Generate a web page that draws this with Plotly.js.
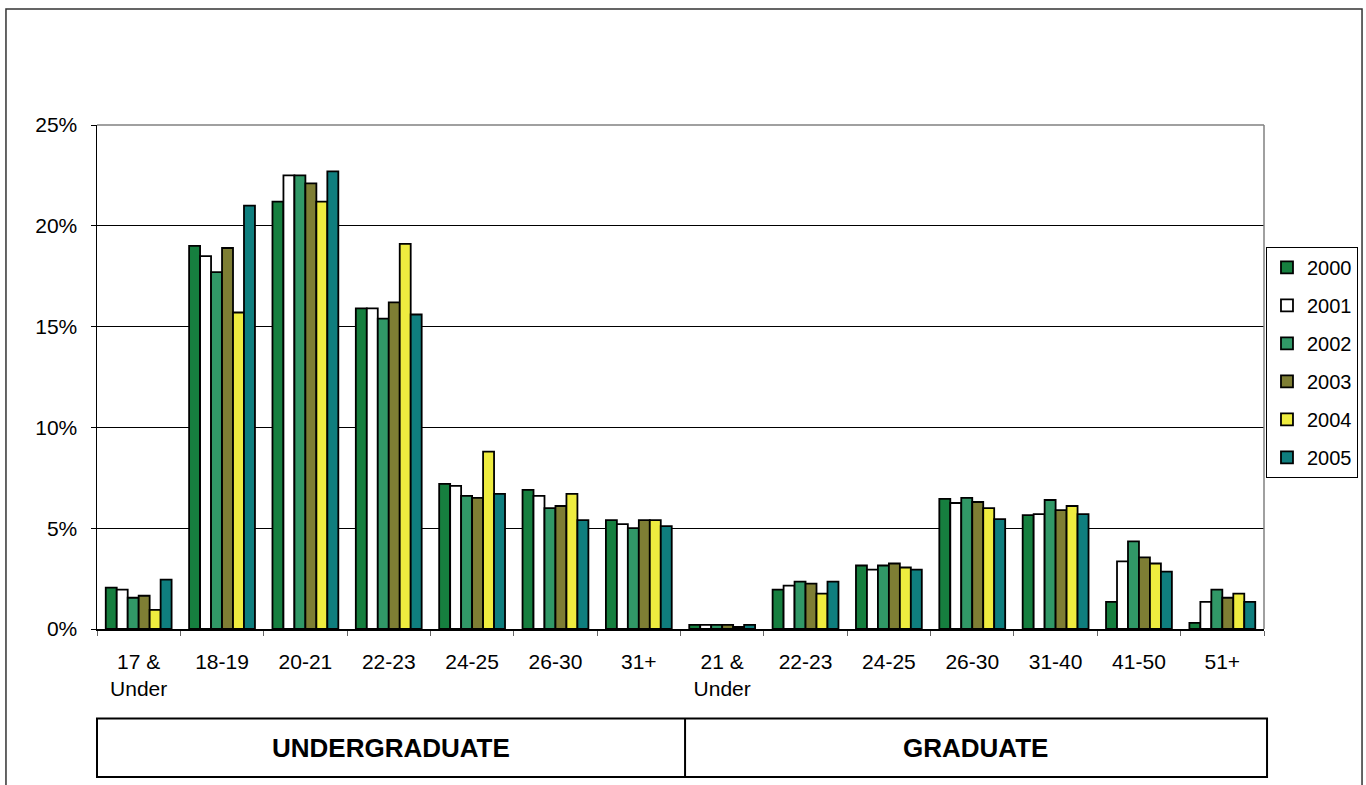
<!DOCTYPE html>
<html>
<head>
<meta charset="utf-8">
<script src="https://cdn.plot.ly/plotly-3.0.1.min.js"></script>
<style>html,body{margin:0;padding:0;background:#fff;}#chart{width:1366px;height:785px;}</style>
</head>
<body>
<div id="chart"></div>
<script>
// ---- data ----
const levels = ["UG","UG","UG","UG","UG","UG","UG","GR","GR","GR","GR","GR","GR","GR"];
const ageBands = ["17 &<br>Under","18-19","20-21","22-23","24-25","26-30","31+",
                  "21 &<br>Under","22-23","24-25","26-30","31-40","41-50","51+"];
const years = ["2000","2001","2002","2003","2004","2005"];
const y2000 = [2.05, 19.0, 21.2, 15.9, 7.2, 6.9, 5.4, 0.2, 1.95, 3.15, 6.45, 5.65, 1.35, 0.3];
const y2001 = [1.95, 18.5, 22.5, 15.9, 7.1, 6.6, 5.2, 0.2, 2.15, 2.95, 6.25, 5.7, 3.35, 1.35];
const y2002 = [1.55, 17.7, 22.5, 15.4, 6.6, 6.0, 5.0, 0.2, 2.35, 3.15, 6.5, 6.4, 4.35, 1.95];
const y2003 = [1.65, 18.9, 22.1, 16.2, 6.5, 6.1, 5.4, 0.2, 2.25, 3.25, 6.3, 5.9, 3.55, 1.55];
const y2004 = [0.95, 15.7, 21.2, 19.1, 8.8, 6.7, 5.4, 0.1, 1.75, 3.05, 6.0, 6.1, 3.25, 1.75];
const y2005 = [2.45, 21.0, 22.7, 15.6, 6.7, 5.4, 5.1, 0.2, 2.35, 2.95, 5.45, 5.7, 2.85, 1.35];
const groupLabels = ["UNDERGRADUATE", "GRADUATE"];

// ---- styles ----
const colors = ["#167F3F", "#FFFFFF", "#319867", "#7E7E34", "#EEEC3F", "#0F7E7E"];
const FONT = "Liberation Sans, Arial, sans-serif";

const xIds = ageBands.map((a, i) => levels[i] + " " + a);
const series = [y2000, y2001, y2002, y2003, y2004, y2005];

const traces = series.map((vals, k) => ({
  type: "bar",
  name: years[k],
  legendgroup: "g" + years[k],
  x: xIds,
  y: vals,
  marker: {color: colors[k], line: {color: "#000", width: 1.8}},
  hoverinfo: "name+y"
}));

const shapes = [
  {type:"line", xref:"paper", yref:"paper", x0:0, x1:1, y0:1, y1:1, line:{color:"#808080", width:1.5}},
  {type:"line", xref:"paper", yref:"paper", x0:1, x1:1, y0:0, y1:1, line:{color:"#808080", width:1.5}},
  {type:"rect", xref:"paper", yref:"paper", x0:-0.0780, x1:1.0840, y0:-0.40, y1:1.2302, line:{color:"#333", width:1.5}, layer:"below"},
  {type:"rect", xref:"paper", yref:"paper", x0:0, x1:1.0026, y0:-0.2937, y1:-0.1776, line:{color:"#000", width:2}},
  {type:"line", xref:"paper", yref:"paper", x0:0.5039, x1:0.5039, y0:-0.2937, y1:-0.1776, line:{color:"#000", width:2}}
];

const annotations = [
  {xref:"paper", yref:"paper", x:0.252, y:-0.2356, text:groupLabels[0], showarrow:false,
   font:{family:FONT, size:26, color:"#000", weight:"bold"}, xanchor:"center", yanchor:"middle"},
  {xref:"paper", yref:"paper", x:0.7532, y:-0.2356, text:groupLabels[1], showarrow:false,
   font:{family:FONT, size:26, color:"#000", weight:"bold"}, xanchor:"center", yanchor:"middle"}
];

const layout = {
  width: 1366, height: 785,
  margin: {l:97, r:102, t:125, b:156, autoexpand:false},
  paper_bgcolor: "#fff", plot_bgcolor: "#fff",
  font: {family: FONT, size: 21, color: "#000"},
  barmode: "group",
  bargap: 0.21,
  bargroupgap: 0,
  showlegend: true,
  legend: {
    x: 1.0017, y: 0.758, xanchor: "left", yanchor: "top",
    bordercolor: "#000", borderwidth: 1, bgcolor: "#fff",
    font: {family: FONT, size: 20, color: "#000"},
    tracegroupgap: 9, traceorder: "grouped"
  },
  xaxis: {
    type: "category",
    tickmode: "array", tickvals: xIds, ticktext: ageBands,
    tickson: "boundaries", ticks: "outside", ticklen: 5, tickcolor: "#666", tickwidth: 1,
    ticklabelstandoff: 13,
    showline: true, linecolor: "#000", linewidth: 1.5,
    showgrid: false, zeroline: false,
    tickfont: {family: FONT, size: 21, color: "#000"},
    fixedrange: true
  },
  yaxis: {
    range: [0, 25], dtick: 5, tick0: 0, ticksuffix: "%",
    ticks: "outside", ticklen: 5, tickcolor: "#000", tickwidth: 1,
    ticklabelstandoff: 9,
    showline: true, linecolor: "#000", linewidth: 1.5,
    showgrid: true, gridcolor: "#000", gridwidth: 1,
    zeroline: false,
    tickfont: {family: FONT, size: 21, color: "#000"},
    fixedrange: true
  },
  shapes: shapes,
  annotations: annotations
};

Plotly.newPlot("chart", traces, layout, {displayModeBar: false, staticPlot: true});
</script>
</body>
</html>
